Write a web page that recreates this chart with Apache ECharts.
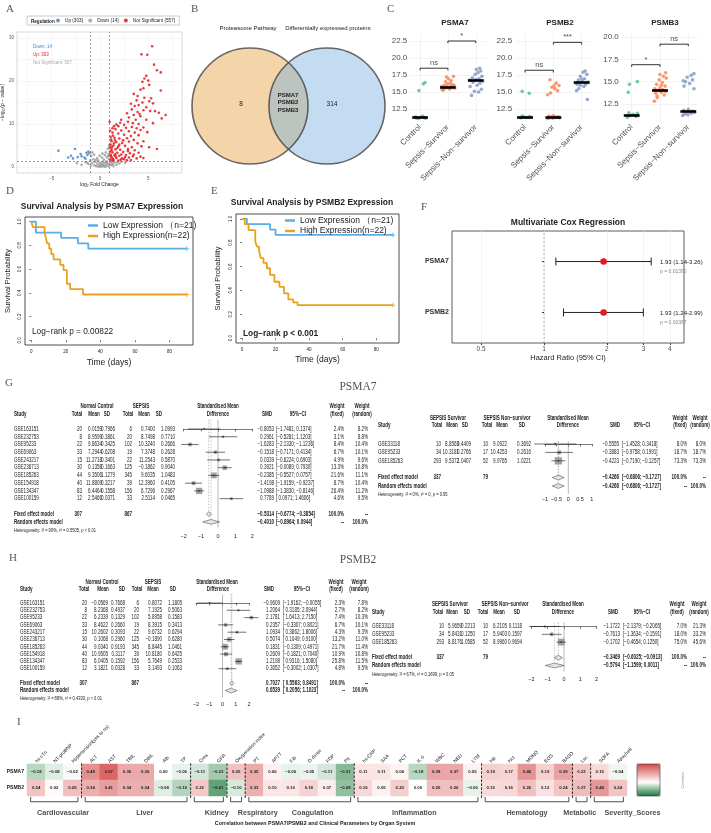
<!DOCTYPE html>
<html>
<head>
<meta charset="utf-8">
<title>Proteasome subunits in sepsis</title>
<script src="https://cdn.jsdelivr.net/npm/echarts@6.0.0/dist/echarts.min.js"></script>
<style>
  html, body { margin: 0; padding: 0; background: #fff; }
  #chart { width: 711px; height: 833px; }
</style>
</head>
<body>
<div id="chart"></div>
<script>
// ---------------- data: A volcano ----------------
const nUp = 303, nDown = 14, nNS = 557;
const volcanoUp = [[5.4,28.1],[4.3,26.2],[4.9,26.1],[5.6,23.8],[5.9,22.5],[6.3,22.0],[4.8,21.2],[4.6,20.6],[5.0,20.1],[4.4,19.8],[5.1,19.1],[4.5,18.3],[4.2,18.0],[6.3,17.8],[3.5,17.0],[3.9,16.5],[4.6,16.1],[5.3,16.0],[3.8,15.5],[5.1,15.3],[4.4,15.0],[3.2,14.7],[3.6,14.2],[4.0,14.4],[4.8,13.9],[5.5,14.8],[3.3,13.4],[4.5,13.2],[5.2,13.0],[3.9,12.8],[4.1,12.3],[3.5,12.1],[5.7,13.0],[6.8,12.1],[6.1,12.6],[2.8,12.5],[3.0,11.5],[4.2,11.8],[4.8,11.0],[3.7,11.0],[2.2,11.0],[2.9,10.5],[3.4,10.2],[6.4,11.3],[5.5,10.2],[4.0,10.0],[2.5,9.8],[1.9,9.5],[2.7,9.1],[3.3,9.3],[3.8,9.0],[4.5,9.2],[1.6,8.8],[2.2,8.5],[3.0,8.3],[3.6,8.0],[4.2,8.6],[4.9,8.1],[5.9,4.2],[1.3,8.0],[1.9,7.8],[2.5,7.5],[3.2,7.2],[4.0,7.4],[1.1,7.0],[1.5,6.8],[2.0,6.6],[2.8,6.7],[3.5,6.3],[4.5,6.0],[1.2,6.0],[1.7,5.8],[2.3,5.6],[3.0,5.9],[3.9,5.5],[1.1,5.2],[1.4,5.0],[1.9,4.8],[2.6,4.9],[3.3,4.6],[4.3,4.8],[1.2,4.3],[1.6,4.1],[2.1,4.0],[2.9,4.2],[3.6,3.9],[1.05,3.6],[1.3,3.4],[1.8,3.3],[2.4,3.5],[3.1,3.2],[4.0,3.3],[1.1,2.9],[1.5,2.7],[2.0,2.6],[2.7,2.8],[3.4,2.5],[1.2,2.2],[1.7,2.1],[2.3,2.0],[3.0,2.2],[3.8,2.0],[1.1,1.7],[1.4,1.6],[1.9,1.5],[2.5,1.8],[3.2,1.6],[4.2,2.4],[1.3,1.45],[2.2,2.9],[2.6,2.3],[1.6,3.0],[2.0,5.2],[1.25,4.7],[1.45,5.5],[1.15,6.4],[1.35,7.3],[1.2,3.9],[1.8,4.4],[2.4,6.2],[1.7,9.9],[1.3,9.0],[2.1,10.3],[1.0,4.6],[1.55,6.2],[2.9,3.7],[3.5,2.9],[4.5,2.1],[5.1,4.6],[1.15,2.5],[1.35,1.9],[1.65,2.4],[2.15,1.7],[2.8,1.55],[1.05,8.4],[1.45,9.5],[1.0,10.5]];
const volcanoDown = [[-4.3,3.8],[-3.3,2.2],[-3.0,2.6],[-2.6,4.2],[-2.8,2.0],[-2.0,3.0],[-1.9,2.5],[-1.6,2.2],[-1.4,3.3],[-1.2,3.6],[-1.1,3.2],[-1.5,1.9],[-1.3,2.8],[-2.3,2.3]];
const volcanoNS = [[-0.9,2.6],[-0.7,1.8],[-0.5,1.2],[-0.3,0.8],[-0.1,0.5],[0.1,0.3],[0.3,0.6],[0.5,0.9],[0.7,1.3],[0.9,1.9],[-0.8,0.9],[-0.6,0.4],[-0.4,0.2],[-0.2,0.1],[0.0,0.05],[0.2,0.15],[0.4,0.3],[0.6,0.45],[0.8,0.7],[1.2,0.9],[1.5,1.0],[1.8,1.1],[2.2,1.2],[1.1,0.4],[1.3,0.6],[0.9,0.2],[-1.2,0.7],[-1.5,1.1],[-1.9,0.5],[-2.4,0.9],[-1.0,1.5],[-0.2,1.5],[0.2,2.2],[0.5,2.8],[0.6,3.4],[0.8,4.2],[0.9,3.0],[0.4,1.7],[0.0,1.0],[-0.3,2.0],[0.7,2.3],[0.3,1.2],[-0.6,2.9],[-0.8,3.4],[0.95,5.1],[0.85,2.6],[-1.3,1.0],[-0.95,0.3],[0.15,0.7],[0.65,0.1],[1.4,0.2],[1.7,0.5],[2.6,1.0],[2.0,0.8],[-0.45,1.6],[0.45,0.05],[-0.05,2.6],[0.25,3.1],[0.75,1.0],[1.05,1.2]];

// ---------------- data: B venn ----------------
const vennSets = ['Proteasome Pathway', 'Differentially expressed proteins'];
const vennOnly = [8, 314];
const vennShared = ['PSMA7', 'PSMB2', 'PSMB3'];

// ---------------- data: C dot plots ----------------
const groups = ['Control', 'Sepsis\u2212Survivor', 'Sepsis\u2212Non\u2212survivor'];
const psma7Ctrl = [[-0.12,11.15],[0.04,11.3],[0.16,11.2],[-0.05,11.1],[0.1,11.42],[-0.16,11.35],[0.21,11.18],[-0.04,15.2],[0.12,16.2],[0.18,16.4]];
const psma7Surv = [[0.8,15.35],[0.85,15.5],[0.9,15.6],[0.95,15.7],[1.0,15.65],[1.05,15.55],[1.1,15.8],[1.15,15.9],[1.2,15.75],[1.25,15.6],[0.78,15.85],[0.88,16.0],[0.98,16.15],[1.08,16.3],[1.18,16.05],[0.92,16.5],[1.12,16.7],[1.02,16.95],[0.95,17.2],[1.2,17.3],[0.83,15.25],[1.07,15.45],[1.22,15.95]];
const psma7Non = [[1.85,14.5],[2.1,15.0],[1.95,15.1],[2.2,15.4],[1.8,15.8],[2.05,16.0],[2.15,16.3],[1.9,16.45],[2.25,16.6],[1.78,16.75],[2.0,16.85],[2.12,16.95],[1.88,17.1],[2.22,17.3],[1.98,17.6],[2.08,17.85],[2.18,18.1],[2.02,18.3],[2.14,18.5],[1.92,16.55]];
const psmb2Ctrl = [[-0.15,11.2],[-0.05,11.35],[0.05,11.25],[0.15,11.4],[0.2,11.3],[-0.1,11.45],[-0.1,15.1],[0.15,14.8]];
const psmb2Surv = [[0.8,11.1],[0.86,11.2],[0.92,11.3],[0.98,11.15],[1.04,11.4],[1.1,11.25],[1.16,11.35],[1.22,11.2],[0.84,11.45],[1.0,11.5],[1.19,11.3],[0.8,14.6],[0.9,14.85],[1.15,15.2],[1.05,15.5],[0.95,15.7],[1.2,15.95],[1.1,16.3],[0.88,16.8],[1.02,15.9]];
const psmb2Non = [[2.2,13.9],[1.82,15.2],[1.9,15.5],[2.08,15.8],[1.96,16.0],[2.14,16.15],[1.8,16.3],[2.22,16.45],[2.02,16.6],[1.88,16.75],[2.1,16.95],[1.95,17.3],[2.18,17.6],[2.05,17.9],[2.12,18.1],[1.85,16.1],[2.0,16.9]];
const psmb3Ctrl = [[-0.15,11.0],[-0.05,11.2],[0.05,11.35],[0.15,11.1],[0.2,11.45],[-0.1,11.5],[-0.12,13.8],[-0.08,14.7],[0.2,15.0]];
const psmb3Surv = [[0.8,12.8],[0.9,13.2],[1.15,13.5],[0.85,13.7],[1.05,13.8],[1.2,13.9],[0.95,14.0],[1.1,14.1],[0.82,14.2],[1.0,14.3],[1.18,14.5],[0.88,14.7],[1.08,14.9],[0.97,15.2],[1.22,15.4],[1.12,15.6],[1.0,15.8],[1.2,16.0],[0.9,13.4],[1.05,14.6]];
const psmb3Non = [[1.8,11.2],[1.86,11.35],[1.92,11.5],[1.98,11.3],[2.04,11.6],[2.1,11.45],[2.16,11.7],[2.22,11.55],[1.84,11.8],[2.0,11.9],[2.2,14.2],[1.85,14.5],[2.05,14.8],[1.9,15.0],[2.15,15.2],[1.96,15.5],[2.1,15.7],[2.2,15.9],[1.82,15.1]];
const psma7Med = [11.3, 15.7, 16.7];
const psmb2Med = [11.35, 11.35, 16.4];
const psmb3Med = [11.25, 14.05, 11.7];
const psma7Sig = [[0, 1, 18.5, 'ns'], [1, 2, 22.5, '*']];
const psmb2Sig = [[0, 1, 18.2, 'ns'], [1, 2, 22.3, '***']];
const psmb3Sig = [[0, 1, 16.9, '*'], [1, 2, 19.2, 'ns']];

// ---------------- data: D/E Kaplan-Meier ----------------
const kmLowName = 'Low Expression \uFF08n=21)';
const kmHighName = 'High Expression(n=22)';
const kmLowD = [[0,1],[2.7,0.909],[17.3,0.864],[27,0.818],[33,0.773],[90,0.773]];
const kmHighD = [[0,1],[1,0.955],[7.7,0.909],[8.5,0.864],[9.2,0.818],[10.4,0.773],[11.6,0.727],[12.9,0.682],[16.8,0.636],[18.7,0.591],[20.6,0.477],[22.5,0.432],[30,0.386],[90,0.386]];
const kmLowE = [[0,1],[2.9,0.955],[16.7,0.91],[20,0.865],[90,0.865]];
const kmHighE = [[0,1],[1.6,0.955],[3.9,0.905],[7.9,0.81],[8.9,0.767],[10.2,0.725],[11.2,0.67],[12.8,0.63],[14.8,0.586],[16.7,0.53],[19.3,0.473],[22.3,0.43],[25,0.376],[27.6,0.325],[30.5,0.3],[33.1,0.277],[90,0.277]];
const kmPText = ['Log\u2212rank p = 0.00822', 'Log\u2212rank p < 0.001'];
const kmTitles = ['Survival Analysis by PSMA7 Expression', 'Survival Analysis by PSMB2 Expression'];

// ---------------- data: F Cox ----------------
const coxGenes = ['PSMA7', 'PSMB2'];
const coxHR = [1.93, 1.93];
const coxLo = [1.14, 1.24];
const coxHi = [3.26, 2.99];
const coxP = ['0.01390', '0.00387'];
const hrTicks = [0.5, 1, 2, 3, 4];

// ---------------- data: G PSMA7 meta-analysis ----------------
const metaStudies = ['GSE163151','GSE232753','GSE95233','GSE69063','GSE243217','GSE236713','GSE185263','GSE154918','GSE134347','GSE100159'];
const metaCtrlN = [20, 8, 22, 33, 15, 30, 44, 40, 83, 12];
const metaSepN = [6, 20, 102, 19, 22, 125, 345, 39, 156, 33];
const psma7CtrlMean = [0.0159, 8.9599, 9.8634, 7.2944, 11.2718, 0.1358, 9.3506, 11.8809, 6.4464, 2.5466];
const psma7CtrlSD = [0.7966, 0.3861, 0.3425, 0.6208, 0.3401, 0.1663, 1.1279, 0.3217, 0.1558, 0.0371];
const psma7SepMean = [0.7400, 8.7498, 10.3240, 7.3748, 11.2543, -0.1862, 9.6035, 12.3960, 6.7296, 2.5114];
const psma7SepSD = [1.0993, 0.7710, 0.2666, 0.2628, 0.5870, 0.9040, 1.0483, 0.4105, 0.2967, 0.0465];
const psma7SMD = [-0.8053, 0.2961, -1.6283, -0.1518, 0.0339, 0.3921, -0.2385, -1.4198, -1.0988, 0.7789];
const psma7Lo = [-1.7481, -0.5281, -2.1330, -0.7171, -0.6224, -0.0089, -0.5527, -1.9159, -1.3830, 0.0971];
const psma7Hi = [0.1374, 1.1203, -1.1236, 0.4134, 0.6903, 0.7930, 0.0757, -0.9237, -0.8146, 1.4606];
const psma7WF = [2.4, 3.1, 8.4, 6.7, 4.9, 13.3, 21.6, 8.7, 26.4, 4.6];
const psma7WR = [8.2, 8.8, 10.4, 10.1, 9.6, 10.8, 11.1, 10.4, 11.2, 9.5];
const psma7Fixed = [-0.5314, -0.6774, -0.3854];
const psma7Random = [-0.4010, -0.8964, 0.0944];
const psma7Het = 'Heterogeneity: I\u00B2 = 90%, \u03C4\u00B2 = 0.5505, p < 0.01';

const survStudies = ['GSE33118', 'GSE95233', 'GSE185263'];
const survN = [10, 34, 293];
const nonN = [10, 17, 52];
const psma7SurvMean = [8.8563, 10.3181, 9.5372];
const psma7SurvSD = [0.4409, 0.2766, 1.0407];
const psma7NonMean = [9.0922, 10.4253, 9.9765];
const psma7NonSD = [0.3692, 0.2616, 1.0221];
const psma7SurvSMD = [-0.5555, -0.3883, -0.4223];
const psma7SurvLo = [-1.4528, -0.9758, -0.7190];
const psma7SurvHi = [0.3418, 0.1991, -0.1257];
const psma7SurvWF = [8.0, 18.7, 73.3];
const psma7SurvWR = [8.0, 18.7, 73.3];
const psma7SurvFixed = [-0.4266, -0.6806, -0.1727];
const psma7SurvRandom = [-0.4266, -0.6806, -0.1727];
const psma7SurvHet = 'Heterogeneity: I\u00B2 = 0%, \u03C4\u00B2 = 0, p = 0.95';

// ---------------- data: H PSMB2 meta-analysis ----------------
const psmb2CtrlMean = [-0.0569, 8.2368, 6.2339, 8.4622, 10.2602, 0.1068, 9.0340, 10.9505, 6.0405, 3.1821];
const psmb2CtrlSD = [0.7668, 0.4937, 0.1329, 0.2660, 0.3093, 0.2960, 0.9193, 0.3117, 0.1592, 0.0328];
const psmb2SepMean = [0.8072, 7.1925, 5.8958, 8.3915, 9.6732, -0.1890, 8.8445, 10.8180, 5.7649, 3.1493];
const psmb2SepSD = [1.1805, 0.5063, 0.1583, 0.3413, 0.6294, 0.6280, 1.0461, 0.6425, 0.2533, 0.1063];
const psmb2SMD = [-0.9609, 1.2064, 2.1781, 0.2357, 1.0934, 0.5074, 0.1831, 0.2609, 1.2198, 0.3652];
const psmb2Lo = [-1.9162, 0.3185, 1.6413, -0.3307, 0.3862, 0.1049, -0.1309, -0.1821, 0.9316, -0.3002];
const psmb2Hi = [-0.0055, 2.0944, 2.7150, 0.8021, 1.8006, 0.9100, 0.4971, 0.7040, 1.5080, 1.0307];
const psmb2WF = [2.3, 2.7, 7.4, 6.7, 4.3, 13.2, 21.7, 10.9, 25.8, 4.8];
const psmb2WR = [7.8, 8.2, 10.3, 10.1, 9.3, 11.0, 11.4, 10.8, 11.5, 9.5];
const psmb2Fixed = [0.7027, 0.5563, 0.8491];
const psmb2Random = [0.6539, 0.2056, 1.1023];
const psmb2Het = 'Heterogeneity: I\u00B2 = 88%, \u03C4\u00B2 = 0.4330, p < 0.01';

const psmb2SurvMean = [5.9659, 5.8431, 8.8176];
const psmb2SurvSD = [0.2213, 0.1250, 1.0585];
const psmb2NonMean = [6.2105, 5.9403, 8.9960];
const psmb2NonSD = [0.1118, 0.1597, 0.9694];
const psmb2SurvSMD = [-1.1722, -0.7613, -0.1702];
const psmb2SurvLo = [-2.1379, -1.3634, -0.4654];
const psmb2SurvHi = [-0.2065, -0.1591, 0.1250];
const psmb2SurvWF = [7.0, 18.0, 75.0];
const psmb2SurvWR = [21.3, 33.2, 45.6];
const psmb2SurvFixed = [-0.3469, -0.6025, -0.0913];
const psmb2SurvRandom = [-0.5794, -1.1599, 0.0011];
const psmb2SurvHet = 'Heterogeneity: I\u00B2 = 67%, \u03C4\u00B2 = 0.1699, p = 0.05';

// ---------------- data: I correlation heatmap ----------------
const clinVars = ['hs-cTn','NT-proBNP','Hypertension(yes to no)','ALT','AST','TBIL','DBIL','Alb','TP','Crea','GFR','Oxygenation index','PT','APTT','Fib','D-dimer','FDP','Plt','hs-CRP','SAA','PCT','IL-6','WBC','NEU','LYM','Hb','Hct','MONO','EOS','BASO','Lac','SOFA','ApacheII'];
const corrPSMA7 = [-0.18,-0.08,-0.02,0.48,0.67,0.36,0.36,0.00,-0.06,-0.11,-0.23,0.25,0.35,0.06,-0.06,-0.05,-0.11,-0.31,0.11,0.11,0.04,-0.18,0.38,0.37,0.05,0.19,0.17,0.46,0.19,0.39,0.23,0.15,-0.04];
const corrPSMB2 = [0.24,0.02,0.26,0.34,0.41,0.34,0.34,-0.08,-0.19,0.22,-0.41,-0.10,0.33,0.10,0.10,0.18,0.07,-0.28,0.16,0.05,0.20,0.00,0.26,0.26,-0.06,0.15,0.16,0.26,0.12,0.24,0.27,0.44,0.24];
const organGroups = ['Cardiovascular','Liver','Kidney','Respiratory','Coagulation','Inflammation','Hematology','Metabolic','Severity_Scores'];
const organSizes = [3, 6, 2, 1, 6, 7, 5, 1, 2];

// ---------------- helpers ----------------
const SANS = "'Liberation Sans', Arial, Helvetica, sans-serif";
const SERIF = "'Liberation Serif', 'Times New Roman', serif";
const MINUS = '\u2212';
const sgn = (v, d) => (v < 0 ? MINUS : '') + Math.abs(v).toFixed(d);

const grid = [], xAxis = [], yAxis = [], series = [], legend = [], graphics = [];

function txt(x, y, s, o) {
  o = o || {};
  graphics.push({
    type: 'text', x: x, y: y, rotation: o.rot || 0, scaleX: o.sx || 1, silent: true, z: 100,
    style: {
      text: s, fill: o.color || '#222', fontSize: o.size || 6, fontFamily: o.font || SANS,
      fontWeight: o.bold ? 'bold' : 'normal', textAlign: o.align || 'left', textVerticalAlign: 'middle'
    }
  });
}
function addGrid(g, xa, ya) {
  g.outerBoundsMode = 'none';
  grid.push(g);
  const gi = grid.length - 1;
  xa.gridIndex = gi; ya.gridIndex = gi;
  xAxis.push(xa); yAxis.push(ya);
  return { g: gi, x: xAxis.length - 1, y: yAxis.length - 1 };
}
function hidden(min, max, inverse) {
  return { type: 'value', min: min, max: max, inverse: !!inverse, show: false, splitLine: { show: false } };
}
function polyline(ax, pts, color, width, type) {
  series.push({ type: 'line', xAxisIndex: ax.x, yAxisIndex: ax.y, data: pts, symbol: 'none', clip: false,
    silent: true, animation: false, lineStyle: { color: color, width: width, type: type || 'solid' }, z: 3 });
}
const letter = (x, y, s) => txt(x, y, s, { size: 11, font: SERIF, color: '#555' });

// ---------------- A: volcano ----------------
letter(6, 9, 'A');
const axA = addGrid({ left: 17, top: 32, width: 165, height: 141, show: true, borderColor: '#cfcfcf', borderWidth: 0.8 },
  { type: 'value', min: -8.6, max: 8.5, axisLine: { show: false },
    axisTick: { show: false, customValues: [-7.5, -5, -2.5, 0, 2.5, 5, 7.5] },
    axisLabel: { customValues: [-5, 0, 5], fontSize: 4.5, color: '#555', margin: 3, formatter: v => sgn(v, 0) },
    splitLine: { show: true, lineStyle: { color: '#ededed', width: 0.5 } },
    name: 'log\u2082 Fold Change', nameLocation: 'middle', nameGap: 9, nameTextStyle: { fontSize: 5, color: '#222' } },
  { type: 'value', min: -1.4, max: 31.4, axisLine: { show: false },
    axisTick: { show: false, customValues: [0, 5, 10, 15, 20, 25, 30] },
    axisLabel: { customValues: [0, 10, 20, 30], fontSize: 4.5, color: '#555', margin: 3 },
    splitLine: { show: true, lineStyle: { color: '#ededed', width: 0.5 } },
    name: MINUS + 'log\u2081\u2080(p ' + MINUS + ' value)', nameLocation: 'middle', nameGap: 9, nameTextStyle: { fontSize: 5, color: '#222' } });
[[volcanoDown, 'Up (' + nUp + ')', '#4F86C6'], [volcanoNS, 'Down (' + nDown + ')', '#9e9e9e'],
 [volcanoUp, 'Not Significant (' + nNS + ')', '#E41A1C']].forEach((s, i) => {
  series.push({ type: 'scatter', name: s[1], xAxisIndex: axA.x, yAxisIndex: axA.y, data: s[0], symbolSize: 2.6,
    silent: true, animation: false, itemStyle: { color: s[2], opacity: 0.85 },
    markLine: i !== 1 ? undefined : { silent: true, symbol: ['none', 'none'], animation: false, label: { show: false },
      lineStyle: { color: '#555', width: 0.6, type: [2, 2] }, data: [{ xAxis: -1 }, { xAxis: 1 }, { yAxis: 1.3 }] } });
});
legend.push({ left: 27, top: 16, orient: 'horizontal', padding: [2, 4, 2, 29], itemGap: 5, itemWidth: 4, itemHeight: 4,
  icon: 'circle', selectedMode: false, borderColor: '#bdbdbd', borderWidth: 0.8,
  textStyle: { fontSize: 4.7, color: '#222' },
  data: ['Up (' + nUp + ')', 'Down (' + nDown + ')', 'Not Significant (' + nNS + ')'] });
txt(31, 21.5, 'Regulation', { size: 4.6, bold: true });
txt(33, 47, 'Down: ' + nDown, { size: 4.5, color: '#4F86C6' });
txt(33, 54.5, 'Up: ' + nUp, { size: 4.5, color: '#E41A1C' });
txt(33, 62.5, 'Not Significant: ' + nNS, { size: 4.5, color: '#aaa' });

// ---------------- B: venn ----------------
letter(191, 9, 'B');
const axB = addGrid({ left: 185, top: 40, width: 210, height: 140 }, hidden(0, 210), hidden(0, 140, true));
series.push({ type: 'scatter', xAxisIndex: axB.x, yAxisIndex: axB.y, data: [[65, 66]], symbolSize: 116, silent: true,
  animation: false, itemStyle: { color: 'rgba(230,160,60,0.55)' }, z: 1 });
series.push({ type: 'scatter', xAxisIndex: axB.x, yAxisIndex: axB.y, data: [[142, 66]], symbolSize: 116, silent: true,
  animation: false, itemStyle: { color: 'rgba(108,168,222,0.5)' }, z: 2 });
series.push({ type: 'scatter', xAxisIndex: axB.x, yAxisIndex: axB.y, data: [[65, 66], [142, 66]], symbolSize: 116,
  silent: true, animation: false, itemStyle: { color: 'rgba(0,0,0,0)', borderColor: '#444', borderWidth: 1.6 }, z: 3 });
txt(248, 28, vennSets[0], { size: 6, align: 'center' });
txt(328, 28, vennSets[1], { size: 6, align: 'center' });
txt(241, 104, String(vennOnly[0]), { size: 6.5, align: 'center' });
txt(332, 104, String(vennOnly[1]), { size: 6.5, align: 'center' });
vennShared.forEach((g, i) => txt(288, 95 + i * 7.5, g, { size: 6, bold: true, align: 'center' }));

// ---------------- C: dot plots ----------------
letter(387, 9, 'C');
const groupColors = ['#66C2A5', '#FC8D62', '#8DA0CB'];
const cPlots = [
  { title: 'PSMA7', pts: [psma7Ctrl, psma7Surv, psma7Non], med: psma7Med, sig: psma7Sig, ticks: [12.5, 15, 17.5, 20, 22.5], min: 10.59, max: 23.53, left: 410.3, width: 75.2, tx: 455 },
  { title: 'PSMB2', pts: [psmb2Ctrl, psmb2Surv, psmb2Non], med: psmb2Med, sig: psmb2Sig, ticks: [12.5, 15, 17.5, 20, 22.5], min: 10.59, max: 23.53, left: 515.1, width: 76.5, tx: 560 },
  { title: 'PSMB3', pts: [psmb3Ctrl, psmb3Surv, psmb3Non], med: psmb3Med, sig: psmb3Sig, ticks: [12.5, 15, 17.5, 20], min: 10.48, max: 20.34, left: 621.8, width: 76.4, tx: 665 }
];
cPlots.forEach(p => {
  const ax = addGrid({ left: p.left, top: 34, width: p.width, height: 88 },
    { type: 'value', min: -0.35, max: 2.35, axisLine: { show: false }, axisTick: { show: false, customValues: [0, 1, 2] },
      axisLabel: { customValues: [0, 1, 2], formatter: v => groups[Math.round(v)], rotate: 45, fontSize: 8, color: '#4d4d4d', margin: 4 },
      splitLine: { show: true, lineStyle: { color: '#ebebeb', width: 0.6 } } },
    { type: 'value', min: p.min, max: p.max, axisLine: { show: false }, axisTick: { show: false, customValues: p.ticks },
      axisLabel: { customValues: p.ticks, formatter: v => v.toFixed(1), fontSize: 8, color: '#4d4d4d', margin: 3 },
      splitLine: { show: true, lineStyle: { color: '#ebebeb', width: 0.6 } } });
  p.pts.forEach((pts, gi) => {
    series.push({ type: 'scatter', xAxisIndex: ax.x, yAxisIndex: ax.y, data: pts, symbolSize: 3.6, silent: true,
      animation: false, itemStyle: { color: groupColors[gi], opacity: 0.9 },
      markLine: { silent: true, symbol: ['none', 'none'], animation: false, label: { show: false },
        lineStyle: { color: '#000', width: 2.6, type: 'solid' },
        data: [[{ coord: [gi - 0.28, p.med[gi]] }, { coord: [gi + 0.28, p.med[gi]] }]] } });
  });
  const drop = (p.max - p.min) * 0.025;
  p.sig.forEach(s => {
    polyline(ax, [[s[0], s[2] - drop], [s[0], s[2]], [s[1], s[2]], [s[1], s[2] - drop]], '#000', 0.8);
    series.push({ type: 'scatter', xAxisIndex: ax.x, yAxisIndex: ax.y, data: [[(s[0] + s[1]) / 2, s[2], s[3]]],
      symbolSize: 1, clip: false, silent: true, animation: false, itemStyle: { color: 'rgba(0,0,0,0)' },
      label: { show: true, position: 'top', distance: 0.5, formatter: q => q.value[2], fontSize: 7.5, color: '#222' } });
  });
  txt(p.tx, 23, p.title, { size: 8, bold: true, align: 'center' });
});

// ---------------- D / E: Kaplan-Meier ----------------
letter(6, 191, 'D');
letter(211, 191, 'E');
const kmPlots = [
  { low: kmLowD, high: kmHighD, left: 25, top: 217, width: 168, height: 128, tx: 102, ty: 207, px: 32, py: 332, bold: false, lx: 88, ly: 221, gapX: 13, gapY: 13 },
  { low: kmLowE, high: kmHighE, left: 236, top: 214, width: 163, height: 129, tx: 312, ty: 203, px: 243, py: 334, bold: true, lx: 285, ly: 216, gapX: 12, gapY: 14 }
];
kmPlots.forEach((k, i) => {
  const ax = addGrid({ left: k.left, top: k.top, width: k.width, height: k.height, show: true, borderColor: '#222', borderWidth: 0.8 },
    { type: 'value', min: -3.6, max: 93.6, axisLine: { show: false },
      axisTick: { show: true, length: 2, customValues: [0, 20, 40, 60, 80], lineStyle: { color: '#222', width: 0.6 } },
      axisLabel: { customValues: [0, 20, 40, 60, 80], fontSize: 4.5, color: '#222', margin: 4 }, splitLine: { show: false },
      name: 'Time (days)', nameLocation: 'middle', nameGap: k.gapX, nameTextStyle: { fontSize: 8.5, color: '#222' } },
    { type: 'value', min: -0.04, max: 1.04, axisLine: { show: false },
      axisTick: { show: true, length: 2, customValues: [0, 0.2, 0.4, 0.6, 0.8, 1], lineStyle: { color: '#222', width: 0.6 } },
      axisLabel: { customValues: [0, 0.2, 0.4, 0.6, 0.8, 1], formatter: v => v.toFixed(1), rotate: 90, fontSize: 4.5, color: '#222', margin: 3 },
      splitLine: { show: false },
      name: 'Survival Probability', nameLocation: 'middle', nameGap: k.gapY, nameTextStyle: { fontSize: 7.5, color: '#222' } });
  [[k.low, kmLowName, '#5AADE5'], [k.high, kmHighName, '#E8A11D']].forEach(s => {
    series.push({ type: 'line', name: s[1], xAxisIndex: ax.x, yAxisIndex: ax.y, data: s[0], step: 'end', symbol: 'none',
      silent: true, animation: false, lineStyle: { color: s[2], width: 1.8 }, itemStyle: { color: s[2] }, z: 3 });
    series.push({ type: 'scatter', xAxisIndex: ax.x, yAxisIndex: ax.y, data: [s[0][s[0].length - 1]], silent: true,
      animation: false, symbol: 'path://M4,0L6,0L6,4L10,4L10,6L6,6L6,10L4,10L4,6L0,6L0,4L4,4Z', symbolSize: 5,
      itemStyle: { color: s[2] }, z: 4 });
  });
  legend.push({ left: k.lx, top: k.ly, orient: 'vertical', padding: 0, itemGap: 1.5, itemWidth: 10, itemHeight: 2.5,
    icon: 'rect', selectedMode: false, textStyle: { fontSize: 8.5, color: '#222' }, data: [kmLowName, kmHighName] });
  txt(k.tx, k.ty, kmTitles[i], { size: 8.5, bold: true, align: 'center' });
  txt(k.px, k.py, kmPText[i], { size: 8.3, bold: k.bold });
});

// ---------------- F: Cox forest ----------------
letter(421, 207, 'F');
const logTicks = hrTicks.map(Math.log10);
const axF = addGrid({ left: 452, top: 231, width: 232, height: 112, show: true, borderColor: '#333', borderWidth: 0.8 },
  { type: 'value', min: Math.log10(0.363), max: Math.log10(4.68), axisLine: { show: false },
    axisTick: { show: true, length: 2, customValues: logTicks, lineStyle: { color: '#333' } },
    axisLabel: { customValues: logTicks, formatter: v => String(+Math.pow(10, v).toFixed(2)), fontSize: 6.5, color: '#4d4d4d', margin: 3 },
    splitLine: { show: true, lineStyle: { color: '#ebebeb', width: 0.6 } },
    name: 'Hazard Ratio (95% CI)', nameLocation: 'middle', nameGap: 11, nameTextStyle: { fontSize: 7.5, color: '#222' } },
  { type: 'value', min: 0.4, max: 2.6, axisLine: { show: false },
    axisTick: { show: true, length: 2, customValues: [1, 2], lineStyle: { color: '#333' } },
    axisLabel: { customValues: [1, 2], formatter: v => coxGenes[coxGenes.length - Math.round(v)], fontSize: 7, fontWeight: 'bold', color: '#333', margin: 3 },
    splitLine: { show: false } });
polyline(axF, [[0, 0.4], [0, 2.6]], '#888', 0.6, [2, 2]);
series.push({ type: 'custom', xAxisIndex: axF.x, yAxisIndex: axF.y, silent: true, animation: false, clip: false,
  data: coxHR.map((h, i) => [Math.log10(h), coxGenes.length - i, Math.log10(coxLo[i]), Math.log10(coxHi[i])]),
  renderItem: (params, api) => {
    const y = api.value(1);
    const a = api.coord([api.value(2), y]), b = api.coord([api.value(3), y]), c = api.coord([api.value(0), y]);
    const ln = { stroke: '#222', lineWidth: 1 };
    return { type: 'group', children: [
      { type: 'line', shape: { x1: a[0], y1: a[1], x2: b[0], y2: b[1] }, style: ln },
      { type: 'line', shape: { x1: a[0], y1: a[1] - 4, x2: a[0], y2: a[1] + 4 }, style: ln },
      { type: 'line', shape: { x1: b[0], y1: b[1] - 4, x2: b[0], y2: b[1] + 4 }, style: ln },
      { type: 'circle', shape: { cx: c[0], cy: c[1], r: 3.3 }, style: { fill: '#E41A1C' } }
    ] };
  } });
coxGenes.forEach((g, i) => {
  const y = [262, 313][i];
  txt(660, y, coxHR[i].toFixed(2) + ' (' + coxLo[i].toFixed(2) + '-' + coxHi[i].toFixed(2) + ')', { size: 6 });
  txt(660, y + 10, 'p = ' + coxP[i], { size: 5, color: '#888' });
});
txt(568, 223, 'Multivariate Cox Regression', { size: 8.5, bold: true, align: 'center' });

// ---------------- G / H: meta-analysis forest plots ----------------
letter(5, 383, 'G');
letter(9, 558, 'H');
txt(358, 387, 'PSMA7', { size: 11.5, font: SERIF, color: '#555', align: 'center' });
txt(358, 560, 'PSMB2', { size: 11.5, font: SERIF, color: '#555', align: 'center' });

function metaPanel(m) {
  const TS = 6.5, SX = 0.7;
  const T = (x, y, s, o) => txt(x, y, s, Object.assign({ size: TS, sx: SX }, o || {}));
  const rowY = r => m.y0 + r * m.dy;
  // forest area
  const ax = addGrid({ left: m.fx, top: rowY(m.ymin), width: m.fw, height: (m.ymax - m.ymin) * m.dy },
    { type: 'value', min: m.xmin, max: m.xmax, axisLine: { show: true, lineStyle: { color: '#222', width: 0.6 } },
      axisTick: { show: true, length: 2.5, customValues: m.ticks, lineStyle: { color: '#222', width: 0.6 } },
      axisLabel: { customValues: m.ticks, formatter: v => sgn(v, Number.isInteger(v) ? 0 : 1), fontSize: 5.5, color: '#222', margin: m.lm },
      splitLine: { show: false } },
    hidden(m.ymin, m.ymax, true));
  polyline(ax, [[0, m.ymin], [0, m.ymax]], '#888', 0.6);
  polyline(ax, [[m.fixed[0], m.ymin], [m.fixed[0], m.fixedRow]], '#777', 0.5, [1.5, 1.5]);
  polyline(ax, [[m.random[0], m.ymin], [m.random[0], m.fixedRow + 1]], '#777', 0.5, [1, 1.5]);
  const maxW = Math.max.apply(null, m.wf);
  series.push({ type: 'custom', xAxisIndex: ax.x, yAxisIndex: ax.y, silent: true, animation: false, clip: false, z: 4,
    data: m.smd.map((e, i) => [e, i, m.lo[i], m.hi[i], m.wf[i]]),
    renderItem: (params, api) => {
      const y = api.value(1);
      const a = api.coord([api.value(2), y]), b = api.coord([api.value(3), y]), c = api.coord([api.value(0), y]);
      const s = Math.max(1.2, m.sq * Math.sqrt(api.value(4) / maxW));
      return { type: 'group', children: [
        { type: 'rect', shape: { x: c[0] - s / 2, y: c[1] - s / 2, width: s, height: s }, style: { fill: '#a0a0a0', stroke: '#a0a0a0', lineWidth: 0.3 } },
        { type: 'line', shape: { x1: a[0], y1: a[1], x2: b[0], y2: b[1] }, style: { stroke: '#111', lineWidth: 0.6 } },
        { type: 'rect', shape: { x: c[0] - 0.5, y: c[1] - 0.5, width: 1, height: 1 }, style: { fill: '#111' } }
      ] };
    } });
  series.push({ type: 'custom', xAxisIndex: ax.x, yAxisIndex: ax.y, silent: true, animation: false, clip: false, z: 4,
    data: [[m.fixed[0], m.fixedRow, m.fixed[1], m.fixed[2]], [m.random[0], m.fixedRow + 1, m.random[1], m.random[2]]],
    renderItem: (params, api) => {
      const y = api.value(1);
      const a = api.coord([api.value(2), y]), b = api.coord([api.value(3), y]), c = api.coord([api.value(0), y]);
      const h = 2.4;
      return { type: 'polygon', shape: { points: [[a[0], a[1]], [c[0], c[1] - h], [b[0], b[1]], [c[0], c[1] + h]] },
        style: { fill: '#e4e4e4', stroke: '#555', lineWidth: 0.6 } };
    } });
  // table
  m.head1.forEach(h => T(h[0], m.yH1, h[1], { bold: true, align: 'center' }));
  m.head2.forEach(h => T(h[0], m.yH2, h[1], { bold: true, align: h[2] || 'center' }));
  const ci = (lo, hi) => '[' + (lo < 0 ? MINUS : ' ') + Math.abs(lo).toFixed(4) + '; ' + (hi < 0 ? MINUS : '') + Math.abs(hi).toFixed(4) + ']';
  m.studies.forEach((s, i) => {
    const y = rowY(i);
    T(m.xStudy, y, s);
    [String(m.n1[i]), sgn(m.m1[i], 4), sgn(m.s1[i], 4), String(m.n2[i]), sgn(m.m2[i], 4), sgn(m.s2[i], 4), sgn(m.smd[i], 4)]
      .forEach((v, k) => T(m.cols[k], y, v, { align: 'right' }));
    T(m.xCI, y, ci(m.lo[i], m.hi[i]));
    T(m.xWF, y, m.wf[i].toFixed(1) + '%', { align: 'right' });
    T(m.xWR, y, m.wr[i].toFixed(1) + '%', { align: 'right' });
  });
  const sum = a => a.reduce((p, q) => p + q, 0);
  const yF = rowY(m.fixedRow), yR = rowY(m.fixedRow + 1);
  T(m.xStudy, yF, 'Fixed effect model', { bold: true });
  T(m.cols[0], yF, String(sum(m.n1)), { align: 'right', bold: true });
  T(m.cols[3], yF, String(sum(m.n2)), { align: 'right', bold: true });
  T(m.cols[6], yF, sgn(m.fixed[0], 4), { align: 'right', bold: true });
  T(m.xCI, yF, ci(m.fixed[1], m.fixed[2]), { bold: true });
  T(m.xWF, yF, '100.0%', { align: 'right', bold: true });
  T(m.xWR, yF, '--', { align: 'right', bold: true });
  T(m.xStudy, yR, 'Random effects model', { bold: true });
  T(m.cols[6], yR, sgn(m.random[0], 4), { align: 'right', bold: true });
  T(m.xCI, yR, ci(m.random[1], m.random[2]), { bold: true });
  T(m.xWF, yR, '--', { align: 'right', bold: true });
  T(m.xWR, yR, '100.0%', { align: 'right', bold: true });
  T(m.xStudy, m.yHet, m.het, { size: 5.8 });
}

const H2 = (xs) => [[xs[0], 'Study', 'left'], [xs[1], 'Total'], [xs[2], 'Mean'], [xs[3], 'SD'], [xs[4], 'Total'], [xs[5], 'Mean'], [xs[6], 'SD'],
  [xs[7], 'Difference'], [xs[8], 'SMD'], [xs[9], '95%' + MINUS + 'CI'], [xs[10], '(fixed)'], [xs[11], '(random)']];

metaPanel({
  studies: metaStudies, n1: metaCtrlN, m1: psma7CtrlMean, s1: psma7CtrlSD, n2: metaSepN, m2: psma7SepMean, s2: psma7SepSD,
  smd: psma7SMD, lo: psma7Lo, hi: psma7Hi, wf: psma7WF, wr: psma7WR, fixed: psma7Fixed, random: psma7Random, het: psma7Het,
  fx: 183.6, fw: 68.8, xmin: -2, xmax: 2, ticks: [-2, -1, 0, 1, 2], lm: 6,
  y0: 429, dy: 7.74, ymin: -1.2, ymax: 12.75, fixedRow: 11, sq: 6,
  xStudy: 14, cols: [82, 102, 115, 132, 155, 175, 274], xCI: 276, xWF: 344, xWR: 368, yH1: 406, yH2: 414, yHet: 530,
  head1: [[97, 'Normal Control'], [141, 'SEPSIS'], [218, 'Standardised Mean'], [337, 'Weight'], [362, 'Weight']],
  head2: H2([14, 77, 94, 107, 128, 144, 159, 218, 267, 298, 337, 362])
});
metaPanel({
  studies: survStudies, n1: survN, m1: psma7SurvMean, s1: psma7SurvSD, n2: nonN, m2: psma7NonMean, s2: psma7NonSD,
  smd: psma7SurvSMD, lo: psma7SurvLo, hi: psma7SurvHi, wf: psma7SurvWF, wr: psma7SurvWR, fixed: psma7SurvFixed, random: psma7SurvRandom, het: psma7SurvHet,
  fx: 544.8, fw: 47, xmin: -1, xmax: 1, ticks: [-1, -0.5, 0, 0.5, 1], lm: 3,
  y0: 444, dy: 8.4, ymin: -0.3, ymax: 5.95, fixedRow: 4, sq: 7,
  xStudy: 378, cols: [441, 459, 471, 488, 507, 531, 619], xCI: 622, xWF: 687, xWR: 706, yH1: 418, yH2: 425.5, yHet: 494,
  head1: [[448, 'SEPSIS Survivor'], [507, 'SEPSIS Non' + MINUS + 'survivor'], [568, 'Standardised Mean'], [680, 'Weight'], [700, 'Weight']],
  head2: H2([378, 437, 452, 465, 487, 502, 522, 568, 615, 642, 680, 700])
});
metaPanel({
  studies: metaStudies, n1: metaCtrlN, m1: psmb2CtrlMean, s1: psmb2CtrlSD, n2: metaSepN, m2: psmb2SepMean, s2: psmb2SepSD,
  smd: psmb2SMD, lo: psmb2Lo, hi: psmb2Hi, wf: psmb2WF, wr: psmb2WR, fixed: psmb2Fixed, random: psmb2Random, het: psmb2Het,
  fx: 196, fw: 53, xmin: -2, xmax: 2, ticks: [-2, -1, 0, 1, 2], lm: 4,
  y0: 603, dy: 7.3, ymin: -1.2, ymax: 12.9, fixedRow: 11, sq: 6,
  xStudy: 20, cols: [87, 108, 125, 139, 162, 182, 280], xCI: 283, xWF: 345, xWR: 368, yH1: 582, yH2: 589, yHet: 698,
  head1: [[102, 'Normal Control'], [153, 'SEPSIS'], [217, 'Standardised Mean'], [336, 'Weight'], [359, 'Weight']],
  head2: H2([20, 84, 103, 122, 137, 153, 173, 218, 269, 302, 336, 359])
});
metaPanel({
  studies: survStudies, n1: survN, m1: psmb2SurvMean, s1: psmb2SurvSD, n2: nonN, m2: psmb2NonMean, s2: psmb2NonSD,
  smd: psmb2SurvSMD, lo: psmb2SurvLo, hi: psmb2SurvHi, wf: psmb2SurvWF, wr: psmb2SurvWR, fixed: psmb2SurvFixed, random: psmb2SurvRandom, het: psmb2SurvHet,
  fx: 531.4, fw: 65.2, xmin: -2, xmax: 2, ticks: [-2, -1, 0, 1, 2], lm: 5,
  y0: 626.5, dy: 7.8, ymin: -0.5, ymax: 5.75, fixedRow: 4, sq: 6.5,
  xStudy: 372, cols: [444, 462, 475, 488, 507, 522, 620], xCI: 623, xWF: 687, xWR: 706, yH1: 604, yH2: 612, yHet: 674,
  head1: [[450, 'SEPSIS Survivor'], [505, 'SEPSIS Non' + MINUS + 'survivor'], [563, 'Standardised Mean'], [677, 'Weight'], [699, 'Weight']],
  head2: H2([372, 438, 452, 467, 483, 499, 517, 563, 613, 642, 677, 699])
});

// ---------------- I: correlation heatmap ----------------
letter(17, 722, 'I');
const axI = addGrid({ left: 27, top: 764, width: 600, height: 32 },
  { type: 'category', data: clinVars, position: 'top', axisLine: { show: false }, axisTick: { show: false }, splitLine: { show: false },
    axisLabel: { interval: 0, rotate: 45, fontSize: 4.8, color: '#222', margin: 2 } },
  { type: 'category', data: ['PSMB2', 'PSMA7'], axisLine: { show: false }, axisTick: { show: false }, splitLine: { show: false },
    axisLabel: { fontSize: 5, fontWeight: 'bold', color: '#222', margin: 3 } });
xAxis.push(Object.assign(hidden(0, clinVars.length), { gridIndex: axI.g }));
yAxis.push(Object.assign(hidden(0, 2), { gridIndex: axI.g }));
const axIv = { x: xAxis.length - 1, y: yAxis.length - 1 };
const heatData = [];
clinVars.forEach((v, i) => { heatData.push([i, 1, corrPSMA7[i]]); heatData.push([i, 0, corrPSMB2[i]]); });
series.push({ type: 'heatmap', xAxisIndex: axI.x, yAxisIndex: axI.y, data: heatData, silent: true, animation: false,
  label: { show: true, fontSize: 4.3, fontWeight: 'bold', color: '#222', formatter: p => sgn(p.value[2], 2) } });
const heatIdx = series.length - 1;
let acc = 0;
const organLabelAt = [1.98, 6.48, 10.44, 12.69, 15.71, 21.3, 27.5, 30.4, 33.3];
organSizes.forEach((n, gi) => {
  const s = acc, e = acc + n;
  polyline(axIv, [[s + 0.2, -0.06], [s + 0.2, -0.36], [e - 0.2, -0.36], [e - 0.2, -0.06]], '#222', 0.8);
  if (gi < organSizes.length - 1) polyline(axIv, [[e, -0.12], [e, 2.12]], '#111', 0.9, [2.5, 1.5]);
  acc = e;
});
series.push({ type: 'scatter', xAxisIndex: axIv.x, yAxisIndex: axIv.y, clip: false, silent: true, animation: false,
  data: organGroups.map((g, i) => [organLabelAt[i], -1.05, g]), symbolSize: 1, itemStyle: { color: 'rgba(0,0,0,0)' },
  label: { show: true, position: 'inside', formatter: q => q.value[2], fontSize: 7.2, fontWeight: 'bold', color: '#222' } });
txt(315, 824, 'Correlation between PSMA7/PSMB2 and Clinical Parameters by Organ System', { size: 5.4, bold: true, align: 'center' });
graphics.push({ type: 'rect', shape: { x: 637, y: 764, width: 23, height: 32 }, silent: true, z: 100,
  style: { fill: 'none', stroke: '#333', lineWidth: 0.6 } });
txt(683, 780, 'Correlation', { size: 3.5, color: '#888', rot: Math.PI / 2, align: 'center' });

// ---------------- render ----------------
const chart = echarts.init(document.getElementById('chart'), null, { width: 711, height: 833 });
chart.setOption({
  animation: false,
  backgroundColor: '#fff',
  textStyle: { fontFamily: SANS },
  grid: grid, xAxis: xAxis, yAxis: yAxis, series: series, legend: legend,
  visualMap: [{
    type: 'continuous', seriesIndex: heatIdx, dimension: 2, min: -0.6, max: 0.8, left: 637, top: 764,
    itemWidth: 23, itemHeight: 32, padding: 0, calculable: false, showLabel: false, text: ['', ''],
    inRange: { color: ['#1E7340', '#64A578', '#AFD2B9', '#FFFFFF', '#F5CDCD', '#E8A0A0', '#DE7878', '#D74646'] }
  }],
  graphic: { elements: graphics }
});
</script>
</body>
</html>
